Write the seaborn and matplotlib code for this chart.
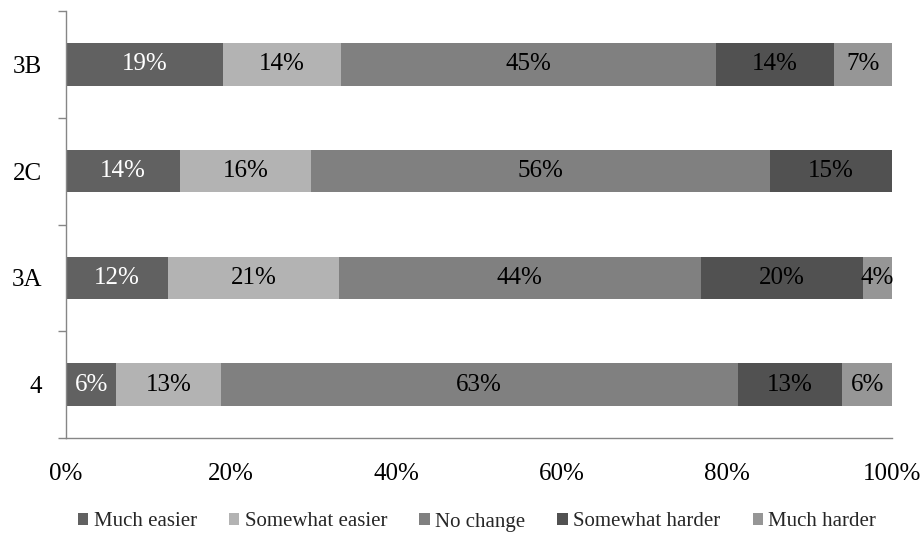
import numpy as np
import pandas as pd
import matplotlib
matplotlib.use("Agg")
import matplotlib.pyplot as plt
import seaborn as sns
from matplotlib.patches import Patch
from matplotlib.ticker import FixedLocator, PercentFormatter

sns.set_theme(style="white")
plt.rcParams["font.family"] = ["Liberation Serif", "DejaVu Serif"]

groups = ["3B", "2C", "3A", "4"]
responses = ["Much easier", "Somewhat easier", "No change", "Somewhat harder", "Much harder"]
much_easier = [19.0, 13.8, 12.4, 6.1]
somewhat_easier = [14.3, 15.8, 20.6, 12.6]
no_change = [45.4, 55.6, 43.8, 62.6]
somewhat_harder = [14.2, 14.8, 19.6, 12.6]
much_harder = [7.1, 0.0, 3.6, 6.1]

colors = ["#616161", "#b3b3b3", "#808080", "#515151", "#969696"]
label_colors = ["white", "black", "black", "black", "black"]

df = pd.DataFrame({
    "group": groups,
    "Much easier": much_easier,
    "Somewhat easier": somewhat_easier,
    "No change": no_change,
    "Somewhat harder": somewhat_harder,
    "Much harder": much_harder,
})
cum = df[responses].cumsum(axis=1)

fig = plt.figure(figsize=(9.24, 5.33), dpi=100)
ax = fig.add_axes([66 / 924, 1 - 438 / 533, (892.3 - 66) / 924, 427 / 533])

# Stacked bars: draw cumulative totals from the outermost segment inwards
for resp, col in reversed(list(zip(responses, colors))):
    sns.barplot(data=cum.assign(group=df["group"]), x=resp, y="group",
                order=groups, orient="h", color=col, width=0.4,
                saturation=1, linewidth=0, ax=ax)

# Value labels in the middle of each segment
for i, g in enumerate(groups):
    for resp, tcol in zip(responses, label_colors):
        v = df.loc[i, resp]
        if v <= 0:
            continue
        center = cum.loc[i, resp] - v / 2
        ax.text(center, i, f"{v:.0f}%", ha="center", va="center",
                fontsize=18, color=tcol)

ax.set_xlim(0, 100)
ax.set_ylim(3.5, -0.5)
ax.set_xlabel("")
ax.set_ylabel("")
ax.xaxis.set_major_locator(FixedLocator([0, 20, 40, 60, 80, 100]))
ax.xaxis.set_major_formatter(PercentFormatter(decimals=0))
ax.yaxis.set_minor_locator(FixedLocator([-0.5, 0.5, 1.5, 2.5, 3.5]))

for side in ["top", "right"]:
    ax.spines[side].set_visible(False)
for side in ["left", "bottom"]:
    ax.spines[side].set_color("#868686")
    ax.spines[side].set_linewidth(1.0)

ax.tick_params(axis="x", which="major", direction="out", length=5.5, width=1,
               color="#868686", labelsize=18, pad=12.5, labelcolor="black")
ax.tick_params(axis="y", which="major", length=0, labelsize=18, pad=17,
               labelcolor="black")
ax.tick_params(axis="y", which="minor", direction="out", length=5.5, width=1,
               color="#868686", left=True)

handles = [Patch(facecolor=c, edgecolor="none", label=r) for r, c in zip(responses, colors)]
fig.legend(handles=handles, loc="center", bbox_to_anchor=(477 / 924, 1 - 522 / 533),
           ncol=5, frameon=False, fontsize=15, handlelength=0.5,
           handleheight=0.5, handletextpad=0.25, columnspacing=1.55)

fig.savefig("out.png", dpi=100, facecolor="white")
